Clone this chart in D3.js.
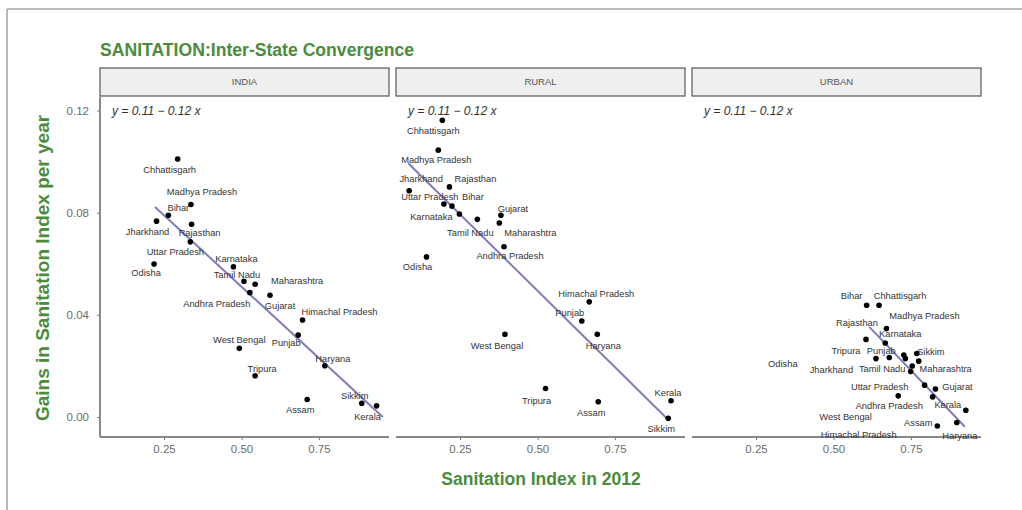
<!DOCTYPE html>
<html>
<head>
<meta charset="utf-8">
<script src="https://d3js.org/d3.v7.min.js"></script>
<style>
    body { margin: 0; background: #fff; }
    .domain { display: none; }
    .tick line { stroke: #777; }
    .tick text { font-family: "Liberation Sans", Arial, sans-serif; font-size: 11.5px; fill: #6b6b6b; }
</style>
</head>
<body>
<script>
    // facet panels
    const panels = ["INDIA", "RURAL", "URBAN"];

    // states in each panel (same order as the values below)
    const indiaStates = ["Chhattisgarh", "Madhya Pradesh", "Bihar", "Jharkhand", "Rajasthan", "Uttar Pradesh", "Odisha",
        "Karnataka", "Tamil Nadu", "Maharashtra", "Andhra Pradesh", "Gujarat", "Himachal Pradesh", "Punjab",
        "West Bengal", "Haryana", "Tripura", "Assam", "Sikkim", "Kerala"];
    const indiaX = [0.294, 0.337, 0.264, 0.226, 0.339, 0.335, 0.218, 0.474, 0.508, 0.544, 0.527, 0.592, 0.697, 0.683,
        0.493, 0.769, 0.544, 0.712, 0.888, 0.936];
    const indiaY = [0.101, 0.0832, 0.079, 0.0767, 0.0755, 0.0686, 0.0599, 0.0588, 0.0532, 0.052, 0.0487, 0.0477, 0.038, 0.0321,
        0.0269, 0.0201, 0.0162, 0.0069, 0.0054, 0.0044];

    const ruralStates = ["Chhattisgarh", "Madhya Pradesh", "Jharkhand", "Rajasthan", "Uttar Pradesh", "Bihar", "Karnataka",
        "Tamil Nadu", "Gujarat", "Maharashtra", "Andhra Pradesh", "Odisha", "Himachal Pradesh", "Punjab", "Haryana",
        "West Bengal", "Tripura", "Assam", "Kerala", "Sikkim"];
    const ruralX = [0.193, 0.18, 0.086, 0.216, 0.198, 0.224, 0.248, 0.306, 0.382, 0.377, 0.392, 0.142, 0.667, 0.643, 0.693,
        0.395, 0.526, 0.696, 0.931, 0.922];
    const ruralY = [0.1162, 0.1045, 0.0886, 0.0901, 0.0834, 0.0826, 0.0795, 0.0774, 0.079, 0.076, 0.0667, 0.0627, 0.0451,
        0.0376, 0.0324, 0.0324, 0.0112, 0.006, 0.0064, -0.0005];

    const urbanStates = ["Bihar", "Chhattisgarh", "Madhya Pradesh", "Rajasthan", "Karnataka", "Tripura", "Punjab", "Odisha",
        "Jharkhand", "Sikkim", "Maharashtra", "Tamil Nadu", "Uttar Pradesh", "West Bengal", "Gujarat", "Andhra Pradesh",
        "Himachal Pradesh", "Kerala", "Haryana", "Assam"];
    const urbanX = [0.607, 0.647, 0.671, 0.605, 0.667, 0.637, 0.680, 0.727, 0.732, 0.769, 0.775, 0.754, 0.749, 0.794, 0.829,
        0.709, 0.820, 0.927, 0.898, 0.835];
    const urbanY = [0.0438, 0.0438, 0.0347, 0.0304, 0.029, 0.0229, 0.0233, 0.0243, 0.0229, 0.0249, 0.0219, 0.02, 0.0178,
        0.0125, 0.011, 0.0083, 0.0079, 0.0027, -0.0021, -0.0035];

    // fitted lines as drawn in the chart (intercept, slope, x range)
    const fitIntercept = [0.107, 0.1093, 0.1133];
    const fitSlope = [-0.1119, -0.1197, -0.1267];
    const fitRange = [[0.221, 0.956], [0.083, 0.917], [0.6155, 0.924]];

    const equations = ["y = 0.11 \u2212 0.12 x", "y = 0.11 \u2212 0.12 x", "y = 0.11 \u2212 0.12 x"];
    const yTicks = [0.00, 0.04, 0.08, 0.12];
    const xTicks = [0.25, 0.50, 0.75];

    // label placement (pixel nudges, like ggrepel)
    const indiaNudge = [[-8, 11], [11, -13], [10, -8], [-9, 11], [8, 9], [-15, 10], [-8, 9], [3, -8], [-7, -6], [42, -3],
        [-33, 11], [10, 11], [37, -8], [-12, 8], [0, -9], [8, -7], [7, -7], [-7, 10], [-7, -8], [-9, 11]];
    const ruralNudge = [[-9, 10], [-2, 10], [12, -12], [26, -8], [-14, -7], [21, -9], [-28, 3], [-7, 13], [12, -7], [31, 10],
        [6, 9], [-9, 10], [7, -8], [-12, -8], [6, 11], [-8, 11], [-9, 12], [-7, 11], [-3, -8], [-7, 10]];
    const urbanNudge = [[-15, -9], [21, -9], [38, -13], [-9, -17], [15, -9], [-30, -8], [-8, -7], [-121, 9], [-74, 11],
        [14, -2], [27, 8], [-30, 3], [-31, 15], [-79, 32], [22, -2], [-9, 10], [-74, 38], [-18, -5], [3, 13], [-19, -3]];

    const series = [
        { states: indiaStates, xs: indiaX, ys: indiaY, nudge: indiaNudge },
        { states: ruralStates, xs: ruralX, ys: ruralY, nudge: ruralNudge },
        { states: urbanStates, xs: urbanX, ys: urbanY, nudge: urbanNudge }
    ];

    const width = 1022, height = 510;
    const green = "#4a8c3c";
    const font = "'Liberation Sans', Arial, sans-serif";
    const svg = d3.select("body").append("svg").attr("width", width).attr("height", height);

    // outer frame
    svg.append("line").attr("x1", 7).attr("x2", width).attr("y1", 9).attr("y2", 9).attr("stroke", "#777");
    svg.append("line").attr("x1", 7).attr("x2", 7).attr("y1", 9).attr("y2", height).attr("stroke", "#777");

    const panelLefts = [100, 396, 692], panelW = 289;
    const plotTop = 97, plotBottom = 437;
    const y = d3.scaleLinear().domain([-0.0078, 0.1253]).range([plotBottom, plotTop]);

    svg.append("text")
        .attr("x", 100).attr("y", 56)
        .attr("font-family", font).attr("font-weight", "bold").attr("font-size", 17.6)
        .attr("fill", green)
        .text("SANITATION:Inter-State Convergence");

    panels.forEach((name, i) => {
        const left = panelLefts[i];
        const x = d3.scaleLinear().domain([0.0435, 0.976]).range([left, left + panelW]);
        const s = series[i];
        const data = s.states.map((st, j) => ({ state: st, x: s.xs[j], y: s.ys[j], n: s.nudge[j] }));
        const g = svg.append("g");

        // strip
        g.append("rect")
            .attr("x", left).attr("y", 68).attr("width", panelW).attr("height", 28)
            .attr("fill", "#efefef").attr("stroke", "#555").attr("stroke-width", 1.2);
        g.append("text")
            .attr("x", left + panelW / 2).attr("y", 85)
            .attr("text-anchor", "middle")
            .attr("font-family", font).attr("font-size", 9.5).attr("fill", "#555")
            .text(name);

        // x axis
        g.append("g")
            .attr("transform", `translate(0,${plotBottom})`)
            .call(d3.axisBottom(x).tickValues(xTicks).tickFormat(d3.format(".2f")).tickSize(3).tickPadding(5));
        g.append("line")
            .attr("x1", left).attr("x2", left + panelW)
            .attr("y1", plotBottom).attr("y2", plotBottom)
            .attr("stroke", "#888").attr("stroke-width", 2);

        // fitted line
        const [x0, x1] = fitRange[i];
        g.append("line")
            .attr("x1", x(x0)).attr("y1", y(fitIntercept[i] + fitSlope[i] * x0))
            .attr("x2", x(x1)).attr("y2", y(fitIntercept[i] + fitSlope[i] * x1))
            .attr("stroke", "#6f6fb8").attr("stroke-width", 2).attr("opacity", 0.9);

        g.append("g").selectAll("circle")
            .data(data)
            .join("circle")
            .attr("cx", d => x(d.x))
            .attr("cy", d => y(d.y))
            .attr("r", 2.8)
            .attr("fill", "black");

        g.append("g").selectAll("text")
            .data(data)
            .join("text")
            .attr("x", d => x(d.x) + d.n[0])
            .attr("y", d => y(d.y) + d.n[1])
            .attr("dy", "0.35em")
            .attr("text-anchor", "middle")
            .attr("font-family", font).attr("font-size", 9.3)
            .attr("fill", "#333")
            .text(d => d.state);

        g.append("text")
            .attr("x", left + 12).attr("y", 115)
            .attr("font-family", font).attr("font-style", "italic").attr("font-size", 12)
            .attr("fill", "#333")
            .text(equations[i]);
    });

    // y axis (left panel only)
    svg.append("g")
        .attr("transform", `translate(${panelLefts[0]},0)`)
        .call(d3.axisLeft(y).tickValues(yTicks).tickFormat(d3.format(".2f")).tickSize(3).tickPadding(8));
    svg.append("line")
        .attr("x1", panelLefts[0]).attr("x2", panelLefts[0])
        .attr("y1", plotTop).attr("y2", plotBottom)
        .attr("stroke", "#888").attr("stroke-width", 2);

    svg.append("text")
        .attr("text-anchor", "middle")
        .attr("transform", `translate(541,485)`)
        .attr("font-family", font).attr("font-weight", "bold").attr("font-size", 17.5)
        .attr("fill", green)
        .text("Sanitation Index in 2012");
    svg.append("text")
        .attr("text-anchor", "middle")
        .attr("transform", `translate(49,268)rotate(-90)`)
        .attr("font-family", font).attr("font-weight", "bold").attr("font-size", 19)
        .attr("fill", green)
        .text("Gains in Sanitation Index per year");
</script>
</body>
</html>
